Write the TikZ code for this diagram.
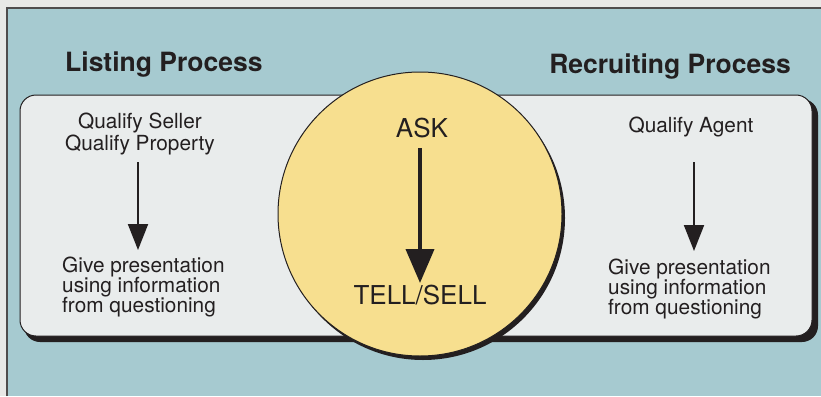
\documentclass[tikz,border=0pt]{standalone}
\usepackage{fontspec}
\setmainfont{TeX Gyre Heros}
\usetikzlibrary{arrows.meta}
\definecolor{bgblue}{HTML}{A6CAD0}
\definecolor{boxfill}{HTML}{E9ECEC}
\definecolor{disc}{HTML}{F7DF8F}
\definecolor{ink}{HTML}{231F20}
\definecolor{paper}{HTML}{E8E8E6}
\tikzset{
  title/.style={font=\fontsize{26.5}{28}\selectfont\bfseries, text=ink, inner sep=0pt},
  body/.style={font=\fontsize{20.8}{20}\selectfont, text=ink, inner sep=0pt},
  big/.style={font=\fontsize{26}{28}\selectfont, text=ink, inner sep=0pt},
  smallarrow/.style={draw=ink, line width=2pt, -{Triangle[length=26pt,width=20pt]}},
  bigarrow/.style={draw=ink, line width=4pt, -{Triangle[length=34pt,width=28pt]}},
}
\begin{document}
\begin{tikzpicture}[x=1pt,y=-1pt]
\useasboundingbox (0,0) rectangle (821,396);
\fill[paper] (0,0) rectangle (821,396);
\fill[bgblue] (7,8) rectangle (821,396);
\draw[ink!80, line width=1.2pt] (7,396) -- (7,8) -- (821,8);
% box shadow and box
\fill[ink, rounded corners=16pt] (24,99) rectangle (818,342);
\draw[ink, line width=1pt, fill=boxfill, rounded corners=16pt] (20,95) rectangle (812,336);
% circle shadow and circle
\fill[ink] (423,218) circle (142pt);
\draw[ink, line width=1pt, fill=disc] (420,214) circle (142pt);
% titles
\node[title, anchor=west] (lt) at (65,65) {Listing Process};
\node[title, anchor=east] (rt) at (791,67) {Recruiting Process};
% left column
\node[body, align=center] (lq) at (140,134) {Qualify Seller\\Qualify Property};
\node[body, align=left, anchor=north west] (lg) at (62,257) {Give presentation\\using information\\from questioning};
\coordinate (la) at (138,162);
\coordinate (lb) at (138,250);
\draw[smallarrow] (la) -- (lb);
% centre
\node[big] (ask) at (422,128) {ASK};
\node[big] (tell) at (420,295) {TELL/SELL};
\coordinate (ca) at (420,148);
\coordinate (cb) at (420,283);
\draw[bigarrow] (ca) -- (cb);
% right column
\node[body] (rq) at (691,127) {Qualify Agent};
\node[body, align=left, anchor=north west] (rg) at (608,259) {Give presentation\\using information\\from questioning};
\coordinate (ra) at (694,162);
\coordinate (rb) at (694,251);
\draw[smallarrow] (ra) -- (rb);
\end{tikzpicture}
\end{document}
